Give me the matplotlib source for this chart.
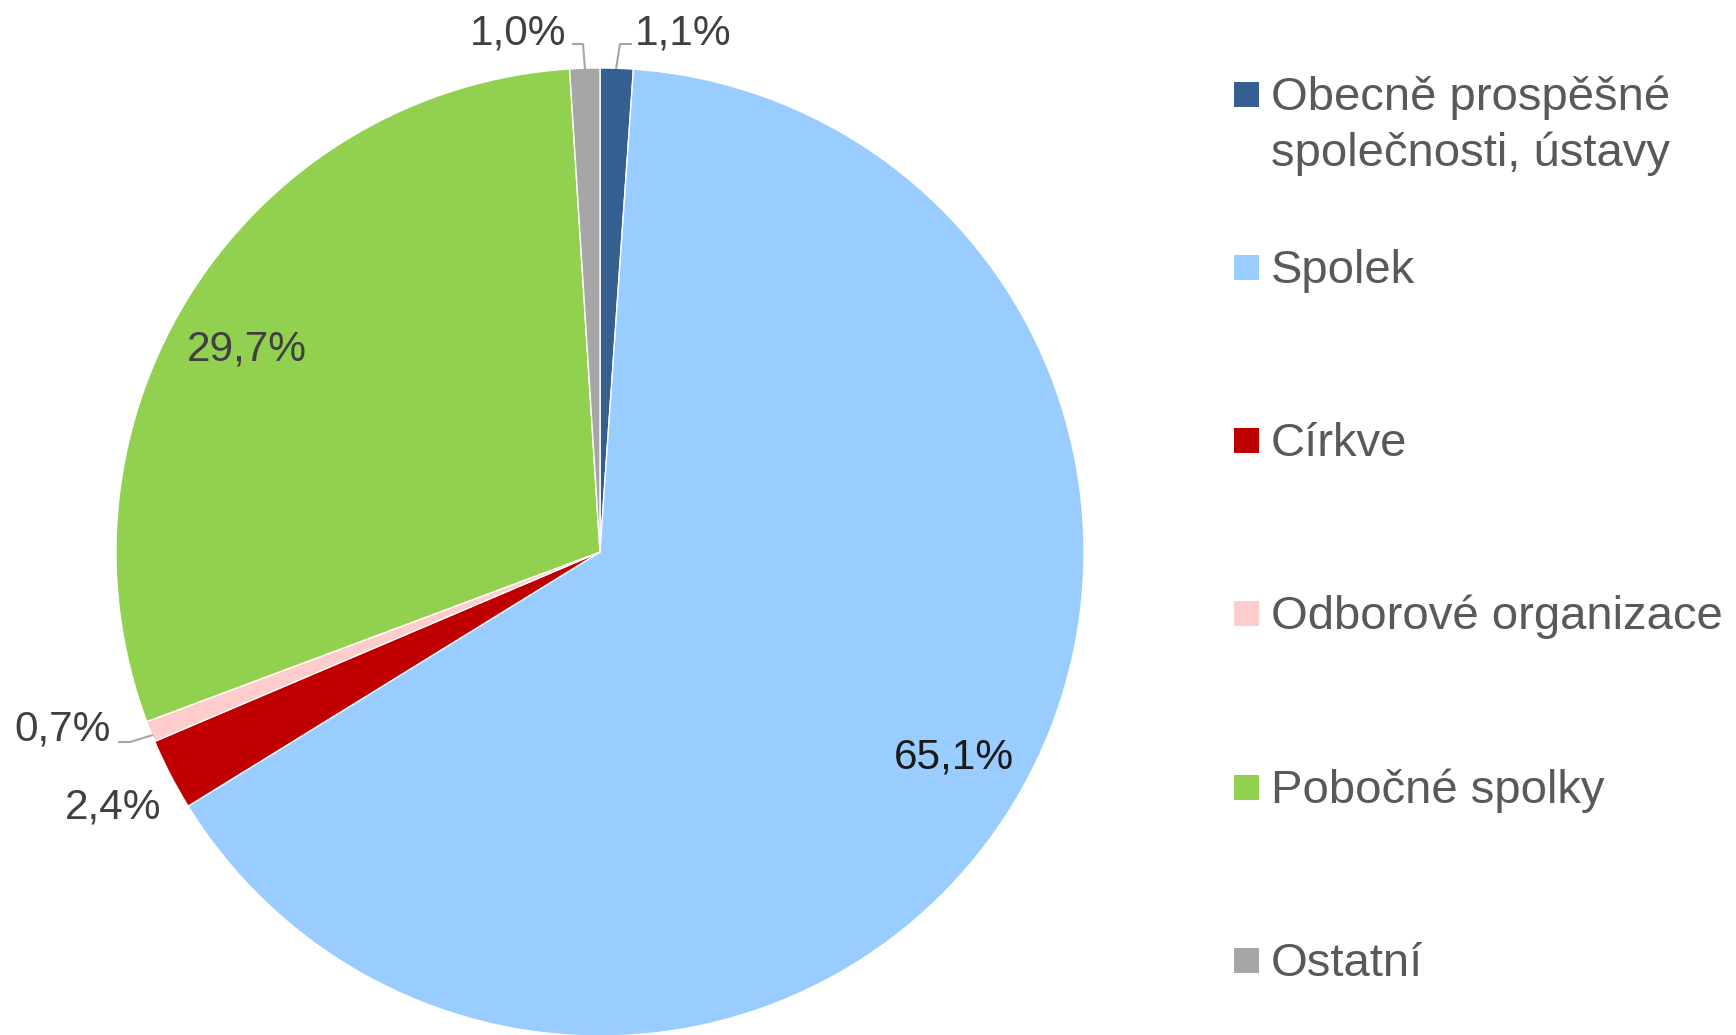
import matplotlib
matplotlib.use("Agg")
import matplotlib.pyplot as plt
import numpy as np
from matplotlib.patches import Rectangle

categories = ["Obecně prospěšné\nspolečnosti, ústavy", "Spolek", "Církve",
              "Odborové organizace", "Pobočné spolky", "Ostatní"]
values = [1.1, 65.1, 2.4, 0.7, 29.7, 1.0]
labels = ["1,1%", "65,1%", "2,4%", "0,7%", "29,7%", "1,0%"]
colors = ["#355F91", "#99CCFF", "#C00000", "#FFCCCC", "#92D050", "#A6A6A6"]

W, H = 1736, 1035
plt.rcParams['font.family'] = ['Liberation Sans', 'DejaVu Sans']
fig = plt.figure(figsize=(W / 100, H / 100), dpi=100)

cx, cy, R = 600, 552, 484
ax = fig.add_axes([(cx - R) / W, (H - cy - R) / H, 2 * R / W, 2 * R / H])
wedges, _ = ax.pie(values, colors=colors, startangle=90, counterclock=False,
                   radius=1.0, wedgeprops=dict(edgecolor="white", linewidth=1.0))
ax.set_xlim(-1, 1)
ax.set_ylim(-1, 1)
ax.set_aspect("equal")
ax.axis("off")


def px2d(px, py):
    return ((px - cx) / R, (cy - py) / R)


# label layout (pixel positions in the figure), leader polylines
label_pos = {0: (683, 33), 1: (954, 757), 2: (113, 808), 3: (63, 729), 4: (247, 350), 5: (518, 33)}
label_col = {0: "#404040", 1: "#1a1a1a", 2: "#404040", 3: "#404040", 4: "#404040", 5: "#404040"}
leaders = {
    0: [(632, 44), (620, 44), (616, 69)],
    5: [(572, 44), (583, 44), (585, 69)],
    3: [(118, 742), (130, 742), (153, 735)],
}
for i, lab in enumerate(labels):
    x, y = px2d(*label_pos[i])
    ax.text(x, y, lab, ha="center", va="center", fontsize=30.5, color=label_col[i])
for i, pts in leaders.items():
    d = [px2d(*p) for p in pts]
    ax.plot([p[0] for p in d], [p[1] for p in d], color="#A6A6A6", lw=1.5,
            clip_on=False, solid_capstyle="butt")

# legend
ys = [94, 267, 440, 613, 787, 960]
for i, (cat, col) in enumerate(zip(categories, colors)):
    yc = ys[i]
    sz = 25
    fig.add_artist(Rectangle(((1234) / W, (H - yc - sz / 2) / H), sz / W, sz / H,
                             transform=fig.transFigure, facecolor=col, edgecolor="none"))
    for j, line in enumerate(cat.split("\n")):
        fig.text(1271 / W, (H - yc - 16 - 56 * j) / H, line, ha="left", va="baseline",
                 fontsize=34, color="#595959")

fig.savefig("out.png", dpi=100)
